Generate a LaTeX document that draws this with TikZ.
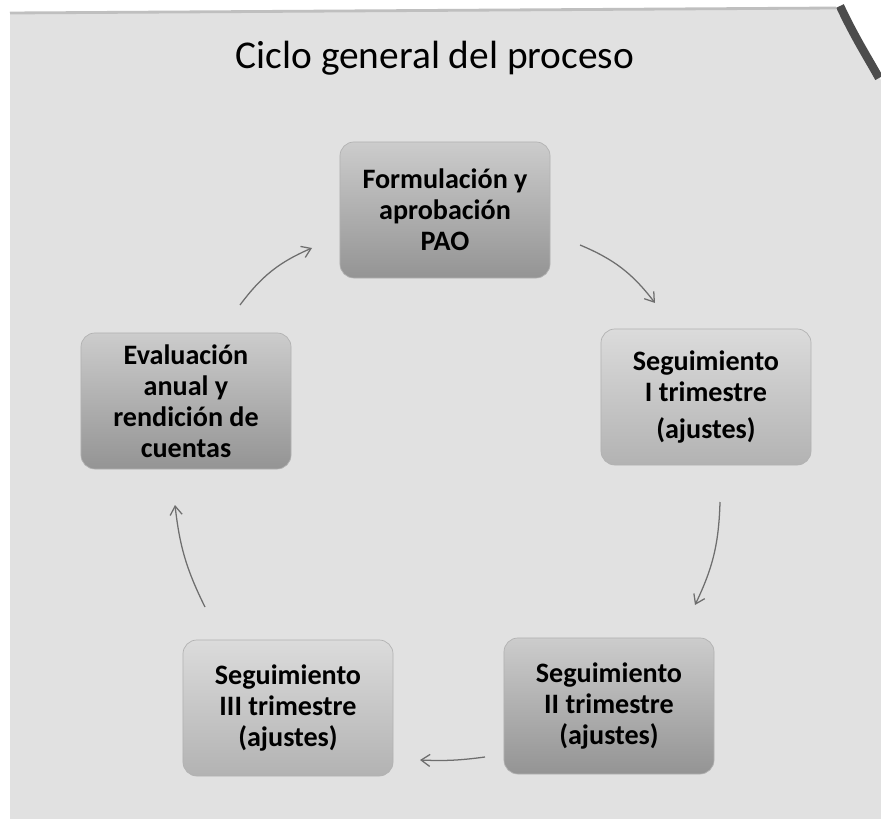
\documentclass[tikz,border=0pt]{standalone}
\usepackage{fontspec}
\setmainfont{Carlito}
\usepackage{tikz}
\usetikzlibrary{arrows.meta}

\definecolor{hoja}{HTML}{E1E1E1}
\definecolor{flecha}{HTML}{6E6E6E}

\tikzset{
  etapa/.style = {shape = rectangle, rounded corners = 0.35cm, minimum width = 5.25cm,
                  minimum height = 3.4cm, align = center, draw = gray!60, line width = 0.5pt,
                  font = \bfseries\fontsize{20}{22}\selectfont},
  oscura/.style = {top color = black!20, bottom color = black!42},
  clara/.style = {top color = black!14, bottom color = black!30},
  paso/.style = {draw = flecha, line width = 0.9pt, -{Straight Barb[length=2.2mm, width=3mm]}}
}

\begin{document}
\begin{tikzpicture}[x = 0.025cm, y = -0.025cm]
\useasboundingbox (0,0) rectangle (881,819);
\fill[white] (0,0) rectangle (881,819);
% fondo de la hoja escaneada
\fill[hoja] (10,14) -- (836,8) .. controls (852,40) and (868,62) .. (881,80) -- (881,819) -- (10,819) -- cycle;
\draw[black!70, line width = 6pt] (840,6) .. controls (855,38) and (868,58) .. (879,78);
\draw[black!25, line width = 2pt] (10,13) -- (836,8);

\node[font = \fontsize{28}{32}\selectfont] (titulo) at (435,58) {Ciclo general del proceso};

\node[etapa, oscura] (pao) at (445,210) {Formulación y\\ aprobación\\ PAO};
\node[etapa, clara] (t1) at (706,397) {Seguimiento\\ I trimestre\\[4pt] (ajustes)};
\node[etapa, oscura] (t2) at (609,706) {Seguimiento\\ II trimestre\\ (ajustes)};
\node[etapa, clara] (t3) at (288,708) {Seguimiento\\ III trimestre\\ (ajustes)};
\node[etapa, oscura] (eval) at (186,401) {Evaluación\\ anual y\\ rendición de\\ cuentas};

\coordinate (pao-s) at (580,245);  \coordinate (t1-e) at (655,303);
\coordinate (t1-s) at (720,502);   \coordinate (t2-e) at (695,605);
\coordinate (t2-s) at (485,757);   \coordinate (t3-e) at (420,760);
\coordinate (t3-s) at (205,607);   \coordinate (eval-e) at (175,505);
\coordinate (eval-s) at (240,305); \coordinate (pao-e) at (312,248);

\draw[paso] (pao-s) to[bend left = 15] (t1-e);
\draw[paso] (t1-s) to[bend left = 12] (t2-e);
\draw[paso] (t2-s) to[bend left = 5] (t3-e);
\draw[paso] (t3-s) to[bend left = 10] (eval-e);
\draw[paso] (eval-s) to[bend left = 15] (pao-e);
\end{tikzpicture}
\end{document}
